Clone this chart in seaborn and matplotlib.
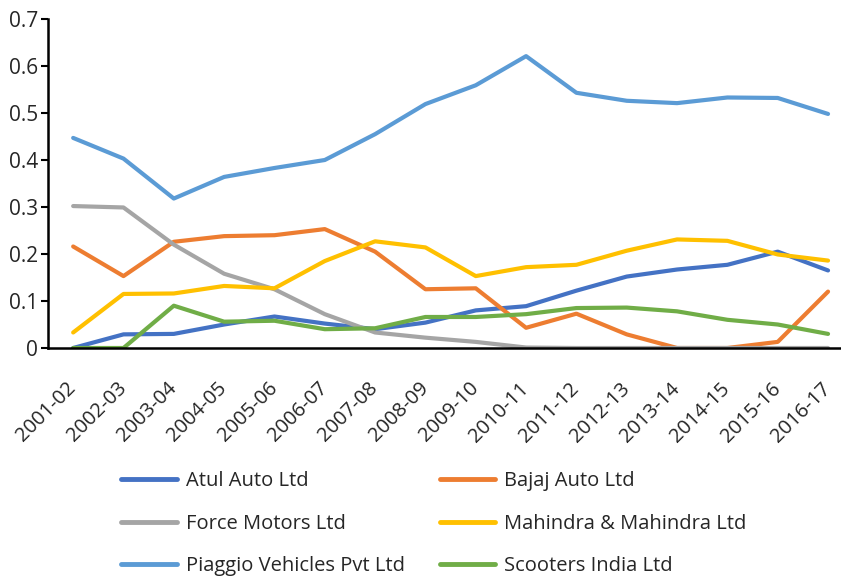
import matplotlib
matplotlib.use("Agg")
import matplotlib.pyplot as plt
import seaborn as sns
import pandas as pd

years = ["2001-02", "2002-03", "2003-04", "2004-05", "2005-06", "2006-07", "2007-08", "2008-09",
         "2009-10", "2010-11", "2011-12", "2012-13", "2013-14", "2014-15", "2015-16", "2016-17"]
atul = [0, 0.029, 0.030, 0.050, 0.067, 0.052, 0.040, 0.054, 0.080, 0.089, 0.122, 0.152, 0.167, 0.177, 0.205, 0.165]
bajaj = [0.216, 0.153, 0.226, 0.238, 0.240, 0.253, 0.205, 0.125, 0.127, 0.043, 0.073, 0.029, 0, 0, 0.013, 0.120]
force = [0.302, 0.299, 0.220, 0.158, 0.125, 0.072, 0.033, 0.022, 0.013, 0.001, 0, 0, 0, 0, 0, 0]
mahindra = [0.033, 0.115, 0.116, 0.132, 0.127, 0.185, 0.227, 0.214, 0.153, 0.172, 0.177, 0.207, 0.231, 0.228, 0.199, 0.186]
piaggio = [0.447, 0.403, 0.318, 0.364, 0.383, 0.400, 0.455, 0.519, 0.559, 0.621, 0.543, 0.526, 0.521, 0.533, 0.532, 0.498]
scooters = [0, 0, 0.090, 0.056, 0.058, 0.040, 0.042, 0.066, 0.066, 0.072, 0.085, 0.086, 0.078, 0.060, 0.050, 0.030]

names = ["Atul Auto Ltd", "Bajaj Auto Ltd", "Force Motors Ltd",
         "Mahindra & Mahindra Ltd", "Piaggio Vehicles Pvt Ltd", "Scooters India Ltd"]
series = [atul, bajaj, force, mahindra, piaggio, scooters]
colors = ["#4472C4", "#ED7D31", "#A5A5A5", "#FFC000", "#5B9BD5", "#70AD47"]

rows = []
for n, vals in zip(names, series):
    for i, (y, v) in enumerate(zip(years, vals)):
        rows.append({"idx": i, "year": y, "company": n, "value": v})
df = pd.DataFrame(rows)

sns.set_style("white")
plt.rcParams["font.family"] = ["Open Sans", "DejaVu Sans"]

fig = plt.figure(figsize=(8.41, 5.83), dpi=100)
ax = fig.add_axes([48 / 841, 1 - 348 / 583, 1 - 48 / 841, (348 - 19) / 583])

sns.lineplot(data=df, x="idx", y="value", hue="company", hue_order=names,
             palette=colors, linewidth=3, ax=ax, legend=False, sort=False)

FS = 14.5
ax.set_xlim(-0.5, (841 - 74) / 50.27)
ax.set_ylim(0, 0.7)
ax.set_yticks([0, 0.1, 0.2, 0.3, 0.4, 0.5, 0.6, 0.7])
ax.set_yticklabels(["0", "0.1", "0.2", "0.3", "0.4", "0.5", "0.6", "0.7"], fontsize=15)
ax.set_xticks(range(len(years)))
ax.set_xticklabels(years, rotation=45, ha="right", va="center", rotation_mode="anchor", fontsize=14.5)
ax.tick_params(axis="y", length=5, width=1.5, color="black", direction="out", left=True, pad=2)
ax.tick_params(axis="x", length=0, pad=27)
ax.set_xlabel("")
ax.set_ylabel("")
for s in ["top", "right"]:
    ax.spines[s].set_visible(False)
for s in ["left", "bottom"]:
    ax.spines[s].set_color("black")
    ax.spines[s].set_linewidth(1.8)

handles = [plt.Line2D([], [], color=c, linewidth=3.5, solid_capstyle="round") for c in colors]
order = [0, 2, 4, 1, 3, 5]
fig.legend([handles[i] for i in order], [names[i] for i in order], ncol=2,
           loc="upper left", bbox_to_anchor=(103 / 841, 1 - 453 / 583), frameon=False,
           fontsize=FS, handlelength=2.75, handletextpad=0.45, columnspacing=1.75,
           labelspacing=1.12)

fig.savefig("out.png", dpi=100)
